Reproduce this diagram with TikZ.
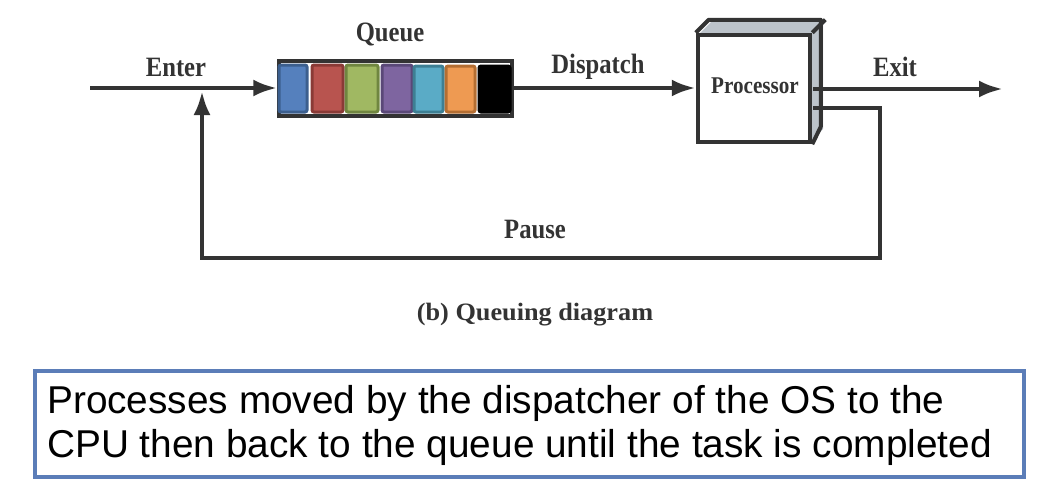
\documentclass[tikz,border=0pt]{standalone}
\usepackage{fontspec}
\usepackage{graphicx}
\setmainfont{Liberation Serif}
\newfontfamily\arialfont{Liberation Sans}
\usetikzlibrary{arrows.meta}
\definecolor{lineg}{HTML}{333333}
\definecolor{boxblue}{HTML}{5B7DB8}
\definecolor{qblue}{HTML}{5580BD}\definecolor{qblueb}{HTML}{3C5F8E}
\definecolor{qred}{HTML}{B8544F}\definecolor{qredb}{HTML}{8A3A36}
\definecolor{qgreen}{HTML}{A0B862}\definecolor{qgreenb}{HTML}{708640}
\definecolor{qpurple}{HTML}{7E65A0}\definecolor{qpurpleb}{HTML}{5A4878}
\definecolor{qteal}{HTML}{5AABC6}\definecolor{qtealb}{HTML}{3D7F93}
\definecolor{qorange}{HTML}{EE9A52}\definecolor{qorangeb}{HTML}{B46E32}
\definecolor{sidegray}{HTML}{BCC3CA}
\newcommand\sqz[2]{\scalebox{#1}[1]{#2}}
\tikzset{
  flow/.style={draw=lineg, line width=4.5pt},
  flowarrow/.style={flow, -{Latex[length=24pt,width=17pt]}},
  lbl/.style={inner sep=0pt, text=lineg, font=\fontsize{28}{30}\selectfont\bfseries},
  cell/.style={line width=3pt, rounded corners=2pt},
}
\begin{document}
\begin{tikzpicture}[x=1pt,y=-1pt]
\useasboundingbox (0,0) rectangle (1052,498);
% queue
\node[draw=lineg, line width=3.5pt, fill=white, minimum width=233pt, minimum height=55pt, inner sep=0pt] (queue) at (395.5,88.5) {};
\draw[cell, draw=qblueb, fill=qblue] (279,65) rectangle (307,112);
\draw[cell, draw=qredb, fill=qred] (312,65) rectangle (343,112);
\draw[cell, draw=qgreenb, fill=qgreen] (346,65) rectangle (378,112);
\draw[cell, draw=qpurpleb, fill=qpurple] (382,65) rectangle (412,112);
\draw[cell, draw=qtealb, fill=qteal] (414,66) rectangle (443,112);
\draw[cell, draw=qorangeb, fill=qorange] (446,66) rectangle (475,112);
\draw[cell, draw=black, fill=black] (479,66) rectangle (510,112);
% processor
\fill[sidegray] (698,35) -- (711,22) -- (823,22) -- (810,35) -- cycle;
\fill[sidegray] (810,35) -- (823,22) -- (823,129) -- (810,142) -- cycle;
\node[draw=lineg, line width=4.5pt, fill=white, minimum width=112pt, minimum height=107pt, inner sep=0pt] (proc) at (754,88.5) {};
\draw[draw=lineg, line width=4pt, line join=round] (proc.north west) -- ++(13,-13) -- ++(112,0) -- ++(0,107) -- (proc.south east);
\draw[draw=lineg, line width=4pt] (proc.north east) -- ++(13,-13);
\node[lbl, font=\fontsize{24}{26}\selectfont\bfseries] (proclbl) at (755,86) {\sqz{0.88}{Processor}};
% coordinates
\coordinate (enterstart) at (90,88);
\coordinate (exitstart) at (813,89);
\coordinate (exitend) at (1003,89);
\coordinate (pausestart) at (813,108);
\coordinate (pauseturn1) at (880,258);
\coordinate (pauseturn2) at (202,258);
\coordinate (pauseend) at (202,91);
% connectors
\draw[flowarrow] (enterstart) -- (queue.west |- enterstart);
\draw[flowarrow] (queue.east |- enterstart) -- (proc.west |- enterstart);
\draw[flowarrow] (exitstart) -- (exitend);
\draw[flowarrow, line join=miter] (pausestart) -| (pauseturn1) -- (pauseturn2) -- (pauseend);
% labels
\node[lbl] (enterlbl) at (176,67) {\sqz{0.88}{Enter}};
\node[lbl] (queuelbl) at (390,34) {\sqz{0.88}{Queue}};
\node[lbl] (displbl) at (598,67) {\sqz{0.88}{Dispatch}};
\node[lbl] (exitlbl) at (895,67) {\sqz{0.88}{Exit}};
\node[lbl] (pauselbl) at (535,230) {\sqz{0.88}{Pause}};
\node[lbl, anchor=base, font=\fontsize{25}{27}\selectfont\bfseries] (caption) at (535,320) {\sqz{1.05}{(b) Queuing diagram}};
% text box
\node[draw=boxblue, line width=3.5pt, minimum width=989pt, minimum height=106pt, inner sep=0pt] (tbox) at (529.5,424) {};
\node[anchor=base west, inner sep=0pt, align=left, font=\arialfont\fontsize{38.8}{44}\selectfont] (tboxtext) at (47,457)
  {Processes moved by the dispatcher of the OS to the\\CPU then back to the queue until the task is completed};
\end{tikzpicture}
\end{document}
